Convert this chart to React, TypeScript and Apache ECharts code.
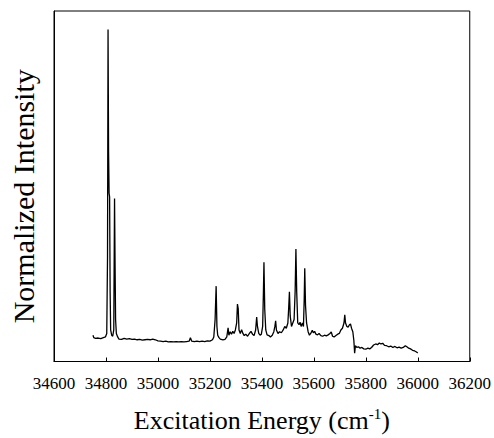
import React, { useEffect, useRef } from "react";
import * as echarts from "echarts";

const energies: number[] = [
  34750, 34753, 34760, 34770, 34780, 34790, 34798, 34803, 34806, 34808, 34810, 34812, 34814, 34816, 34818, 34822, 34826, 34830, 34833, 34835, 34837, 34840, 34845, 34850, 34860, 34870, 34880, 34890, 34900, 34910, 34920, 34930, 34940, 34950, 34960, 34970, 34980, 34990, 35000, 35010, 35020, 35030, 35040, 35050, 35060, 35070, 35080, 35090, 35100, 35110, 35120, 35125, 35130, 35140, 35150, 35160, 35170, 35180, 35190, 35200, 35210, 35215, 35220, 35224, 35227, 35230, 35235, 35240, 35250, 35258, 35265, 35270, 35273, 35278, 35283, 35288, 35293, 35298, 35303, 35306, 35309, 35312, 35317, 35322, 35327, 35332, 35338, 35345, 35352, 35358, 35364, 35370, 35376, 35380, 35383, 35388, 35393, 35398, 35403, 35406, 35408, 35411, 35415, 35420, 35427, 35433, 35440, 35446, 35450, 35453, 35456, 35462, 35468, 35475, 35482, 35488, 35494, 35500, 35503, 35506, 35509, 35514, 35519, 35524, 35528, 35531, 35534, 35538, 35543, 35547, 35551, 35556, 35560, 35563, 35565, 35568, 35572, 35578, 35583, 35588, 35594, 35598, 35603, 35608, 35614, 35620, 35627, 35634, 35641, 35648, 35655, 35662, 35667, 35672, 35678, 35685, 35692, 35698, 35704, 35710, 35716, 35719, 35722, 35727, 35732, 35737, 35741, 35745, 35750, 35754, 35757, 35760, 35765, 35772, 35778, 35785, 35792, 35800, 35808, 35815, 35822, 35830, 35838, 35845, 35852, 35858, 35865, 35872, 35880, 35888, 35896, 35904, 35912, 35920, 35928, 35936, 35944, 35952, 35958, 35965, 35972, 35980, 35988, 35995, 36000,
];

const intensities: number[] = [
  0.075, 0.068, 0.066, 0.067, 0.065, 0.068, 0.07, 0.08, 0.3, 0.947, 0.6, 0.48, 0.47, 0.2, 0.09, 0.075, 0.072, 0.09, 0.465, 0.28, 0.12, 0.08, 0.07, 0.064, 0.063, 0.066, 0.064, 0.065, 0.063, 0.064, 0.062, 0.063, 0.061, 0.062, 0.063, 0.062, 0.064, 0.062, 0.059, 0.058, 0.057, 0.058, 0.056, 0.057, 0.056, 0.057, 0.056, 0.057, 0.056, 0.057, 0.058, 0.068, 0.058, 0.057, 0.058, 0.057, 0.058, 0.057, 0.059, 0.058, 0.062, 0.07, 0.12, 0.215, 0.1, 0.075, 0.068, 0.064, 0.062, 0.063, 0.07, 0.096, 0.075, 0.085, 0.078, 0.086, 0.08, 0.09, 0.11, 0.164, 0.15, 0.09, 0.08, 0.091, 0.08, 0.074, 0.078, 0.072, 0.08, 0.086, 0.078, 0.074, 0.09, 0.127, 0.1, 0.08, 0.075, 0.078, 0.1, 0.2, 0.283, 0.15, 0.09, 0.076, 0.074, 0.07, 0.075, 0.085, 0.1, 0.116, 0.09, 0.08, 0.085, 0.082, 0.09, 0.1, 0.095, 0.11, 0.15, 0.199, 0.13, 0.1, 0.11, 0.12, 0.2, 0.321, 0.2, 0.11, 0.105, 0.112, 0.1, 0.11, 0.1, 0.18, 0.266, 0.16, 0.11, 0.085, 0.075, 0.08, 0.089, 0.082, 0.086, 0.078, 0.076, 0.08, 0.074, 0.072, 0.075, 0.073, 0.076, 0.08, 0.084, 0.072, 0.07, 0.074, 0.078, 0.08, 0.09, 0.095, 0.11, 0.133, 0.11, 0.1, 0.098, 0.105, 0.107, 0.095, 0.085, 0.06, 0.024, 0.045, 0.04, 0.042, 0.038, 0.04, 0.036, 0.035, 0.038, 0.036, 0.04, 0.047, 0.05, 0.048, 0.053, 0.05, 0.052, 0.046, 0.045, 0.042, 0.044, 0.04, 0.043, 0.039, 0.041, 0.038, 0.04, 0.045, 0.042, 0.038, 0.036, 0.032, 0.03, 0.027, 0.024,
];

const xTicks: number[] = [34600, 34800, 35000, 35200, 35400, 35600, 35800, 36000, 36200];

const FONT = "'Liberation Serif', 'Times New Roman', serif";

export default function App() {
  const ref = useRef<HTMLDivElement>(null);
  useEffect(() => {
    if (!ref.current) return;
    const chart = echarts.init(ref.current, undefined, { renderer: "svg" });
    const data = energies.map((e, i) => [e, intensities[i]]);
    chart.setOption({
      animation: false,
      backgroundColor: "#ffffff",
      grid: {
        left: 52,
        right: 24,
        top: 11,
        bottom: 66,
        show: true,
        borderColor: "#000",
        borderWidth: 1,
        backgroundColor: "transparent",
      },
      xAxis: {
        type: "value",
        min: xTicks[0],
        max: xTicks[xTicks.length - 1],
        interval: 200,
        axisLine: { show: true, lineStyle: { color: "#000", width: 1 } },
        axisTick: { show: true, inside: true, length: 4, lineStyle: { color: "#000" } },
        axisLabel: {
          color: "#000",
          fontFamily: FONT,
          fontSize: 17,
          margin: 13,
          showMinLabel: true,
          showMaxLabel: true,
          formatter: (v: number) => String(v),
        },
        splitLine: { show: false },
        name: "{a|Excitation Energy (cm}{b|-1}{a|)}",
        nameLocation: "middle",
        nameGap: 45,
        nameTextStyle: {
          rich: {
            a: { fontFamily: FONT, fontSize: 26, color: "#000" },
            b: { fontFamily: FONT, fontSize: 15, color: "#000", verticalAlign: "top", padding: [0, 0, 12, 0] },
          },
        },
      },
      yAxis: {
        type: "value",
        min: 0,
        max: 1,
        axisLine: { show: true, lineStyle: { color: "#000" } },
        axisTick: { show: false },
        axisLabel: { show: false },
        splitLine: { show: false },
        name: "Normalized Intensity",
        nameLocation: "middle",
        nameGap: 16,
        nameTextStyle: { fontFamily: FONT, fontSize: 30, color: "#000", padding: [0, 20, 0, 0] },
      },
      series: [
        {
          type: "line",
          data,
          symbol: "none",
          lineStyle: { color: "#000", width: 1.3 },
        },
      ],
    });
    return () => chart.dispose();
  }, []);
  return (
    <div
      ref={ref}
      style={{ position: "absolute", left: 0, top: 0, width: 494, height: 438 }}
    />
  );
}
